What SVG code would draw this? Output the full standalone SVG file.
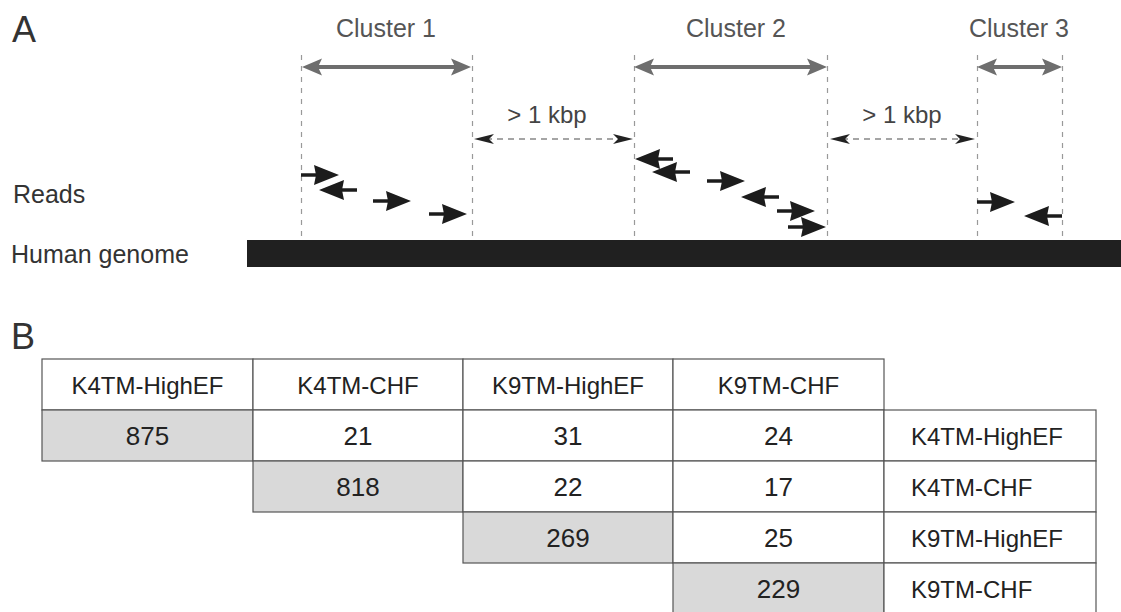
<svg xmlns="http://www.w3.org/2000/svg" xmlns:xlink="http://www.w3.org/1999/xlink" width="1121" height="612" viewBox="0 0 1121 612">
  <style>
    text { font-family: "Liberation Sans", Arial, Helvetica, sans-serif; }
    .panel { font-size: 36px; fill: #333; }
    .clabel { font-size: 25px; fill: #555; text-anchor: middle; }
    .rlabel { font-size: 25px; fill: #333; }
    .kbp { font-size: 24px; fill: #444; text-anchor: middle; }
    .vline { stroke: #999; stroke-width: 1.2; stroke-dasharray: 5 6; fill: none; }
    .span { stroke: #6e6e6e; stroke-width: 4; fill: none; }
    .spanhead { fill: #6e6e6e; }
    .gap { stroke: #888; stroke-width: 1.5; stroke-dasharray: 6 5; fill: none; }
    .gaphead { fill: #222; }
    .readshaft { stroke: #1c1c1c; stroke-width: 3.5; }
    .readhead { fill: #1c1c1c; }
    .cell { fill: #fff; stroke: #555; stroke-width: 1.2; }
    .shade { fill: #d9d9d9; stroke: #555; stroke-width: 1.2; }
    .hdr { font-size: 24px; fill: #222; text-anchor: middle; }
    .num { font-size: 26px; fill: #222; text-anchor: middle; }
    .side { font-size: 24px; fill: #222; }
  </style>
  <defs>
    <g id="readR">
      <line class="readshaft" x1="0" y1="0" x2="16" y2="0"/>
      <path class="readhead" d="M38,0 L13,-10 L15,0 L13,10 Z"/>
    </g>
    <g id="readL">
      <line class="readshaft" x1="22" y1="0" x2="38" y2="0"/>
      <path class="readhead" d="M0,0 L25,-10 L23,0 L25,10 Z"/>
    </g>
  </defs>

  <rect width="1121" height="612" fill="#fff"/>

  <!-- Panel A -->
  <g id="panelA">
    <text class="panel" x="12" y="42">A</text>
    <g id="labels">
      <text class="rlabel" x="13" y="203">Reads</text>
      <text class="rlabel" x="11" y="263">Human genome</text>
    </g>
    <g id="genome">
      <rect x="247" y="240" width="874" height="27" fill="#202020"/>
    </g>
    <g id="guides">
      <line class="vline" x1="301.5" y1="55" x2="301.5" y2="240"/>
      <line class="vline" x1="472.5" y1="55" x2="472.5" y2="240"/>
      <line class="vline" x1="634.5" y1="55" x2="634.5" y2="240"/>
      <line class="vline" x1="827.5" y1="55" x2="827.5" y2="240"/>
      <line class="vline" x1="977.5" y1="55" x2="977.5" y2="240"/>
      <line class="vline" x1="1062.5" y1="55" x2="1062.5" y2="240"/>
    </g>
    <g id="cluster1">
      <text class="clabel" x="386" y="37">Cluster 1</text>
      <line class="span" x1="316" y1="67" x2="457" y2="67"/>
      <path class="spanhead" d="M302,67 L322,58.5 L318,67 L322,75.5 Z"/>
      <path class="spanhead" d="M471,67 L451,58.5 L455,67 L451,75.5 Z"/>
    </g>
    <g id="cluster2">
      <text class="clabel" x="736" y="37">Cluster 2</text>
      <line class="span" x1="648" y1="67" x2="813" y2="67"/>
      <path class="spanhead" d="M634,67 L654,58.5 L650,67 L654,75.5 Z"/>
      <path class="spanhead" d="M827,67 L807,58.5 L811,67 L807,75.5 Z"/>
    </g>
    <g id="cluster3">
      <text class="clabel" x="1019" y="37">Cluster 3</text>
      <line class="span" x1="991" y1="67" x2="1048" y2="67"/>
      <path class="spanhead" d="M977,67 L997,58.5 L993,67 L997,75.5 Z"/>
      <path class="spanhead" d="M1062,67 L1042,58.5 L1046,67 L1042,75.5 Z"/>
    </g>
    <g id="connectors">
      <g id="gap1">
        <text class="kbp" x="547" y="123">&gt; 1 kbp</text>
        <line class="gap" x1="486" y1="139" x2="620" y2="139"/>
        <path class="gaphead" d="M474,139 L494,134 L489,139 L494,144 Z"/>
        <path class="gaphead" d="M633,139 L613,134 L618,139 L613,144 Z"/>
      </g>
      <g id="gap2">
        <text class="kbp" x="902" y="123">&gt; 1 kbp</text>
        <line class="gap" x1="842" y1="139" x2="963" y2="139"/>
        <path class="gaphead" d="M830,139 L850,134 L845,139 L850,144 Z"/>
        <path class="gaphead" d="M975,139 L955,134 L960,139 L955,144 Z"/>
      </g>
    </g>
    <g id="reads">
      <use xlink:href="#readR" href="#readR" transform="translate(301,175)"/>
      <use xlink:href="#readL" href="#readL" transform="translate(319,190)"/>
      <use xlink:href="#readR" href="#readR" transform="translate(373,201)"/>
      <use xlink:href="#readR" href="#readR" transform="translate(429,214)"/>

      <use xlink:href="#readL" href="#readL" transform="translate(635,159)"/>
      <use xlink:href="#readL" href="#readL" transform="translate(652,172)"/>
      <use xlink:href="#readR" href="#readR" transform="translate(707,181)"/>
      <use xlink:href="#readL" href="#readL" transform="translate(741,197)"/>
      <use xlink:href="#readR" href="#readR" transform="translate(777,211)"/>
      <use xlink:href="#readR" href="#readR" transform="translate(788,227)"/>

      <use xlink:href="#readR" href="#readR" transform="translate(977,202)"/>
      <use xlink:href="#readL" href="#readL" transform="translate(1024,216)"/>
    </g>
  </g>

  <!-- Panel B -->
  <g id="panelB">
    <text class="panel" x="11" y="349">B</text>
    <g id="header">
      <rect class="cell" x="42" y="359" width="211" height="51"/>
      <text class="hdr" x="147.5" y="394">K4TM-HighEF</text>
      <rect class="cell" x="253" y="359" width="210" height="51"/>
      <text class="hdr" x="358" y="394">K4TM-CHF</text>
      <rect class="cell" x="463" y="359" width="210" height="51"/>
      <text class="hdr" x="568" y="394">K9TM-HighEF</text>
      <rect class="cell" x="673" y="359" width="211" height="51"/>
      <text class="hdr" x="778.5" y="394">K9TM-CHF</text>
    </g>
    <g id="row1">
      <rect class="shade" x="42" y="410" width="211" height="51"/>
      <text class="num" x="147.5" y="445">875</text>
      <rect class="cell" x="253" y="410" width="210" height="51"/>
      <text class="num" x="358" y="445">21</text>
      <rect class="cell" x="463" y="410" width="210" height="51"/>
      <text class="num" x="568" y="445">31</text>
      <rect class="cell" x="673" y="410" width="211" height="51"/>
      <text class="num" x="778.5" y="445">24</text>
      <rect class="cell" x="884" y="410" width="212" height="51"/>
      <text class="side" x="911" y="445">K4TM-HighEF</text>
    </g>
    <g id="row2">
      <rect class="shade" x="253" y="461" width="210" height="51"/>
      <text class="num" x="358" y="496">818</text>
      <rect class="cell" x="463" y="461" width="210" height="51"/>
      <text class="num" x="568" y="496">22</text>
      <rect class="cell" x="673" y="461" width="211" height="51"/>
      <text class="num" x="778.5" y="496">17</text>
      <rect class="cell" x="884" y="461" width="212" height="51"/>
      <text class="side" x="911" y="496">K4TM-CHF</text>
    </g>
    <g id="row3">
      <rect class="shade" x="463" y="512" width="210" height="51"/>
      <text class="num" x="568" y="547">269</text>
      <rect class="cell" x="673" y="512" width="211" height="51"/>
      <text class="num" x="778.5" y="547">25</text>
      <rect class="cell" x="884" y="512" width="212" height="51"/>
      <text class="side" x="911" y="547">K9TM-HighEF</text>
    </g>
    <g id="row4">
      <rect class="shade" x="673" y="563" width="211" height="52"/>
      <text class="num" x="778.5" y="598">229</text>
      <rect class="cell" x="884" y="563" width="212" height="52"/>
      <text class="side" x="911" y="598">K9TM-CHF</text>
    </g>
  </g>
</svg>
